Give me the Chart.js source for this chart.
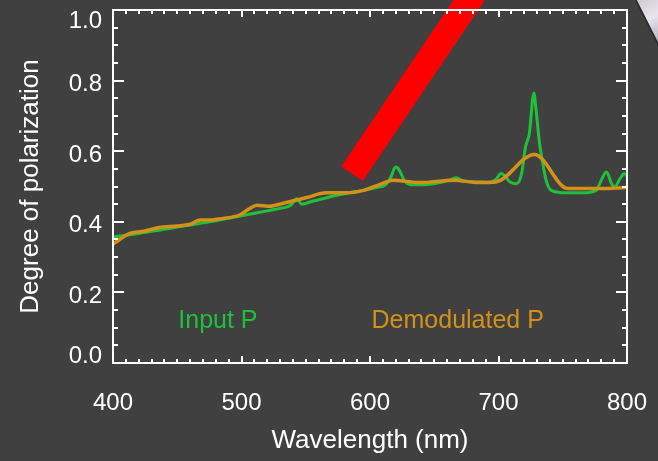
<!DOCTYPE html>
<html>
<head>
<meta charset="utf-8">
<script src="https://cdn.jsdelivr.net/npm/chart.js@4/dist/chart.umd.min.js"></script>
<style>
  html, body { margin: 0; padding: 0; background: #404040; }
  #wrap { width: 658px; height: 461px; }
</style>
</head>
<body>
<div id="wrap"><canvas id="c" width="658" height="461"></canvas></div>
<script>
// Input P (green), sampled finely
var inputNm = [400, 410, 420, 430, 440, 450, 460, 470, 480, 490, 500, 510, 520, 530, 538, 543, 547,
  555, 565, 575, 585, 595, 605, 612, 616, 620, 623, 627, 632, 645, 655, 662, 667, 673, 683, 692,
  698, 702, 709, 714, 718, 721, 724, 727.5, 729.5, 732, 735, 737, 741, 753, 765, 776, 780, 784,
  788, 790.5, 794.5, 798, 800];
var inputP = [0.357, 0.362, 0.367, 0.373, 0.379, 0.385, 0.391, 0.397, 0.403, 0.410, 0.417, 0.424,
  0.431, 0.438, 0.446, 0.465, 0.450, 0.458, 0.467, 0.476, 0.483, 0.489, 0.497, 0.505, 0.525, 0.555,
  0.545, 0.515, 0.505, 0.506, 0.512, 0.518, 0.525, 0.515, 0.513, 0.512, 0.520, 0.537, 0.513, 0.508,
  0.537, 0.612, 0.650, 0.765, 0.707, 0.620, 0.555, 0.518, 0.489, 0.482, 0.482, 0.489, 0.518, 0.541,
  0.508, 0.499, 0.522, 0.537, 0.529];

// Demodulated P (orange), coarser
var demodNm = [400, 406, 413, 424, 436, 450, 460, 468, 476, 484, 499, 506, 512, 522, 532, 550, 566,
  582, 595, 608, 618, 639, 665, 685, 698, 728, 754, 779, 800];
var demodP = [0.337, 0.352, 0.367, 0.373, 0.384, 0.388, 0.393, 0.405, 0.405, 0.409, 0.420, 0.437,
  0.447, 0.444, 0.452, 0.468, 0.482, 0.482, 0.489, 0.506, 0.518, 0.511, 0.518, 0.511, 0.513, 0.591,
  0.494, 0.494, 0.497];

// red pointer bar
var arrowNm = [586, 692.7];
var arrowP = [0.536, 1.112];

var xTickLabels = ['400', '500', '600', '700', '800'];
var yTickValues = [0, 0.2, 0.4, 0.6, 0.8, 1.0];
var yTickLabels = ['0.0', '0.2', '0.4', '0.6', '0.8', '1.0'];

var labelTexts = ['Input P', 'Demodulated P'];
var labelNm = [450.8, 601.2];
var labelP = [0.099, 0.099];
var labelColors = ['#1ec23a', '#d4911a'];

var FONT = '"Liberation Sans", Arial, sans-serif';

function pts(xs, ys) {
  return xs.map(function (x, i) { return { x: x, y: ys[i] }; });
}

var framePlugin = {
  id: 'frame',
  beforeDraw: function (chart) {
    var c = chart.ctx;
    c.save();
    c.fillStyle = '#404040';
    c.fillRect(0, 0, chart.width, chart.height);
    // bit of a photo poking in at the top right corner
    var g = c.createLinearGradient(636, 0, 658, 40);
    g.addColorStop(0, '#cfc9d6');
    g.addColorStop(0.5, '#e9e6ee');
    g.addColorStop(1, '#b9b3c2');
    c.fillStyle = g;
    c.beginPath();
    c.moveTo(636, 0);
    c.lineTo(658, 0);
    c.lineTo(658, 44);
    c.closePath();
    c.fill();
    c.strokeStyle = '#262626';
    c.lineWidth = 1.5;
    c.beginPath();
    c.moveTo(636, 0);
    c.lineTo(658, 44);
    c.stroke();
    c.restore();
  },
  afterDraw: function (chart) {
    var c = chart.ctx, a = chart.chartArea;
    var xs = chart.scales.x, ys = chart.scales.y;
    c.save();
    c.strokeStyle = '#ffffff';
    c.lineWidth = 2;
    c.strokeRect(a.left, a.top, a.right - a.left, a.bottom - a.top);
    c.beginPath();
    var v, px, len;
    for (v = 400; v <= 800; v += 10) {
      px = Math.round(xs.getPixelForValue(v));
      len = (v % 100 === 0) ? 7 : 4;
      c.moveTo(px, a.bottom); c.lineTo(px, a.bottom - len);
      c.moveTo(px, a.top); c.lineTo(px, a.top + len);
    }
    for (var i = 0; i <= 20; i++) {
      px = Math.round(ys.getPixelForValue(i * 0.05));
      len = (i % 4 === 0) ? 11 : 5;
      c.moveTo(a.left, px); c.lineTo(a.left + len, px);
      c.moveTo(a.right, px); c.lineTo(a.right - len, px);
    }
    c.stroke();

    // y tick labels (IDL style: end labels pulled inside)
    c.fillStyle = '#ffffff';
    c.font = '24px ' + FONT;
    c.textAlign = 'right';
    c.textBaseline = 'middle';
    yTickValues.forEach(function (t, k) {
      var y = ys.getPixelForValue(t) + 4;
      y = Math.max(a.top + 11, Math.min(a.bottom - 7, y));
      c.fillText(yTickLabels[k], 102, y);
    });

    // in-plot series labels
    c.font = '25px ' + FONT;
    c.textAlign = 'left';
    c.textBaseline = 'alphabetic';
    labelTexts.forEach(function (t, k) {
      c.fillStyle = labelColors[k];
      c.fillText(t, xs.getPixelForValue(labelNm[k]), ys.getPixelForValue(labelP[k]));
    });
    c.restore();
  }
};

new Chart(document.getElementById('c'), {
  type: 'line',
  data: {
    datasets: [
      {
        label: 'Pointer',
        data: pts(arrowNm, arrowP),
        borderColor: '#ff0000',
        borderWidth: 26,
        borderCapStyle: 'butt',
        pointRadius: 0,
        clip: false,
        order: 0
      },
      {
        label: 'Demodulated P',
        data: pts(demodNm, demodP),
        borderColor: '#d4911a',
        borderWidth: 3.5,
        pointRadius: 0,
        cubicInterpolationMode: 'monotone',
        order: 1
      },
      {
        label: 'Input P',
        data: pts(inputNm, inputP),
        borderColor: '#1ec23a',
        borderWidth: 3,
        pointRadius: 0,
        cubicInterpolationMode: 'monotone',
        order: 2
      }
    ]
  },
  options: {
    responsive: false,
    animation: false,
    events: [],
    layout: { autoPadding: false, padding: { left: 0, right: 31, top: 10, bottom: 0 } },
    plugins: { legend: { display: false }, tooltip: { enabled: false } },
    scales: {
      x: {
        type: 'linear',
        min: 400,
        max: 800,
        grid: { display: false, drawTicks: true, tickLength: 26 },
        border: { display: false },
        ticks: {
          stepSize: 100,
          color: '#ffffff',
          padding: 0,
          maxRotation: 0,
          font: { family: FONT, size: 24 },
          callback: function (v) { return xTickLabels[Math.round((v - 400) / 100)]; }
        },
        title: {
          display: true,
          text: 'Wavelength (nm)',
          color: '#ffffff',
          font: { family: FONT, size: 26 },
          padding: { top: 0, bottom: 5 }
        },
        afterFit: function (s) { s.height = 98; }
      },
      y: {
        type: 'linear',
        min: 0,
        max: 1,
        grid: { display: false, drawTicks: false },
        border: { display: false },
        ticks: { display: false, stepSize: 0.2 },
        title: {
          display: true,
          text: 'Degree of polarization',
          color: '#ffffff',
          font: { family: FONT, size: 26 },
          padding: { top: 15, bottom: 0 }
        },
        afterFit: function (s) { s.width = 113; }
      }
    }
  },
  plugins: [framePlugin]
});
</script>
</body>
</html>
